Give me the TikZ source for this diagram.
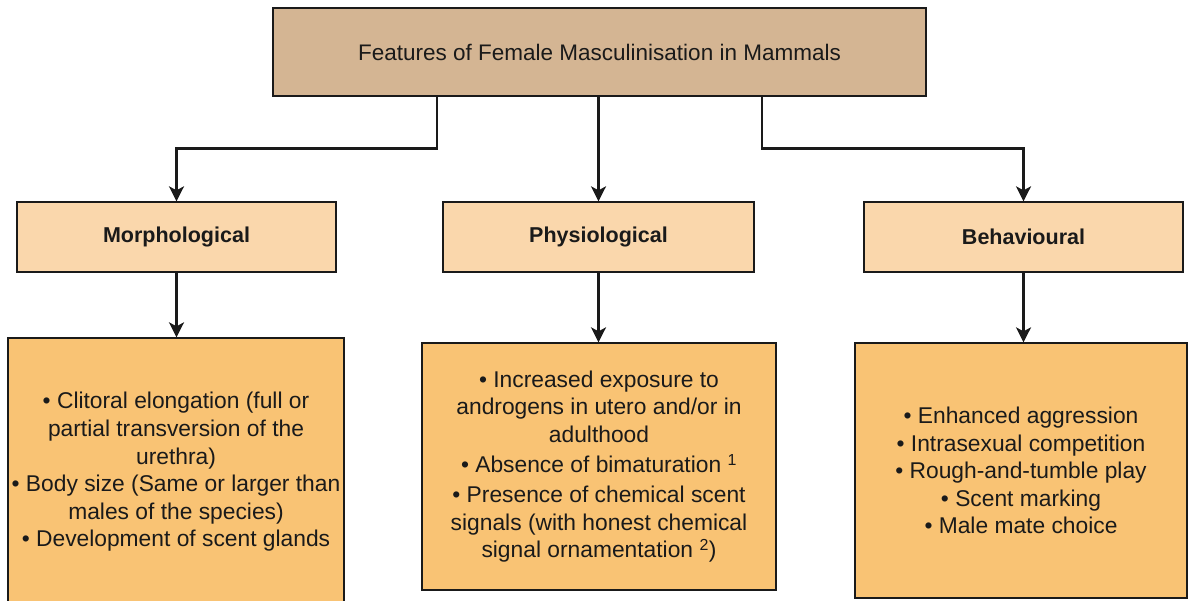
\documentclass[tikz,border=0pt]{standalone}
\usepackage{fontspec}
\setmainfont{Liberation Sans}
\usetikzlibrary{arrows.meta,calc}

\definecolor{topfill}{HTML}{D4B593}
\definecolor{midfill}{HTML}{FAD7AC}
\definecolor{lowfill}{HTML}{F9C374}
\definecolor{ink}{HTML}{1A1A1A}

\tikzset{
  box/.style={draw=ink, line width=1.3pt, rectangle, align=center, text=ink, inner sep=0pt},
  headbox/.style={box, fill=topfill, minimum width=653pt, minimum height=88pt,
    font=\fontsize{22.5}{27}\selectfont},
  catbox/.style={box, fill=midfill, minimum width=319pt, minimum height=70pt,
    font=\fontsize{21.5}{25}\selectfont\bfseries},
  listbox/.style={box, fill=lowfill, font=\fontsize{22.8}{27.6}\selectfont},
  conn/.style={draw=ink, line width=2.4pt, -{Stealth[length=15pt, width=15pt, inset=4pt]}}
}

\begin{document}
\begin{tikzpicture}[x=1pt, y=-1pt]
  \useasboundingbox (0,0) rectangle (1188,601);
  \clip (0,0) rectangle (1188,601);
  \fill[white] (0,0) rectangle (1188,601);

  % title
  \node[headbox] (top) at (599.5,52) {Features of Female Masculinisation in Mammals};

  % categories
  \node[catbox] (morph) at (176.5,237) {Morphological};
  \node[catbox, minimum width=311pt] (phys) at (598.5,237) {Physiological};
  \node[catbox] (behav) at (1023.5,237) {Behavioural};

  % feature lists
  \node[listbox, minimum width=336pt, minimum height=268pt] (mlist) at (176,472)
    {• Clitoral elongation (full or\\
     partial transversion of the\\
     urethra)\\
     • Body size (Same or larger than\\
     males of the species)\\
     • Development of scent glands};
  \node[listbox, minimum width=354pt, minimum height=247pt] (plist) at (599,466.5)
    {• Increased exposure to\\
     androgens in utero and/or in\\
     adulthood\\[3pt]
     • Absence of bimaturation \textsuperscript{1}\\[2pt]
     • Presence of chemical scent\\
     signals (with honest chemical\\
     signal ornamentation \textsuperscript{2})};
  \node[listbox, minimum width=332pt, minimum height=255pt] (blist) at (1021,470.5)
    {• Enhanced aggression\\
     • Intrasexual competition\\
     • Rough-and-tumble play\\
     • Scent marking\\
     • Male mate choice};

  % connectors
  \draw[conn] ([xshift=-162.5pt]top.south) -- ++(0,52) -| (morph.north);
  \draw[conn] (top.south -| phys.north) -- (phys.north);
  \draw[conn] ([xshift=162.5pt]top.south) -- ++(0,52) -| (behav.north);
  \draw[conn] (morph.south) -- (morph.south |- mlist.north);
  \draw[conn] (phys.south) -- (phys.south |- plist.north);
  \draw[conn] (behav.south) -- (behav.south |- blist.north);
\end{tikzpicture}
\end{document}
